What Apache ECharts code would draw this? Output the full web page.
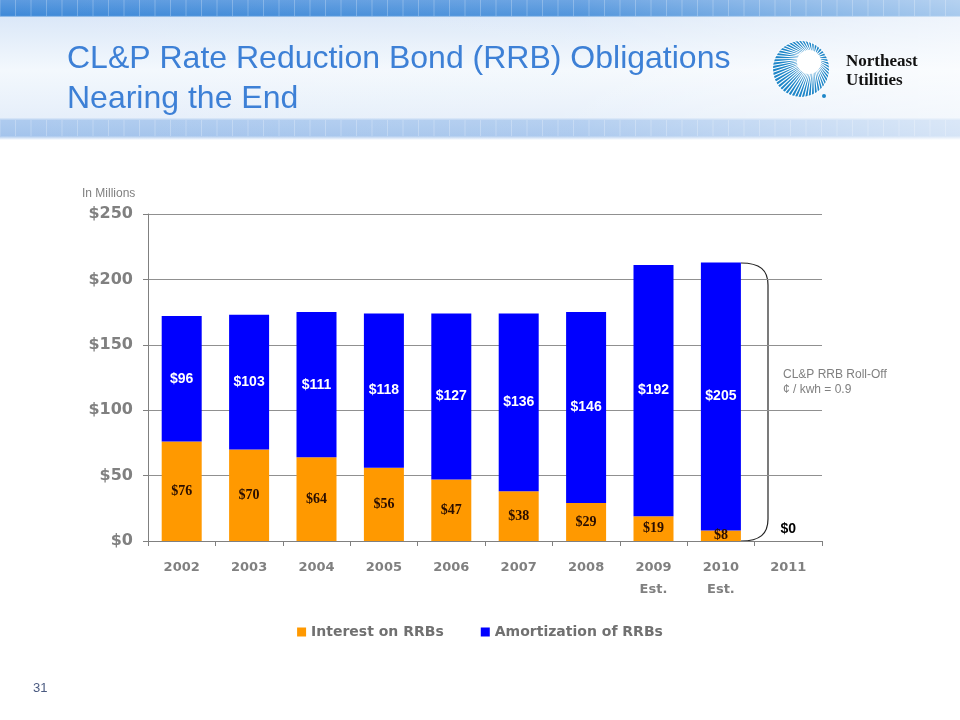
<!DOCTYPE html>
<html><head><meta charset="utf-8">
<script src="https://cdn.jsdelivr.net/npm/echarts@6/dist/echarts.min.js"></script>
<style>html,body{margin:0;padding:0;background:#fff}#c{width:960px;height:720px}</style>
</head><body><div id="c"></div>
<script>
const categories = ['2002','2003','2004','2005','2006','2007','2008','2009\nEst.','2010\nEst.','2011'];
const interest = [76,70,64,56,47,38,29,19,8,0];
const amortization = [96,103,111,118,127,136,146,192,205,0];
const yTicks = [0,50,100,150,200,250];

const chart = echarts.init(document.getElementById('c'));

// decorative header + logo
const graphics = [
  {type:'rect', shape:{x:0,y:0,width:960,height:140}, style:{fill:new echarts.graphic.LinearGradient(0,0,0,1,[
    {offset:0,color:'#5d9be0'},{offset:0.11,color:'#3f8ad8'},{offset:0.125,color:'#dbe8f8'},{offset:0.5,color:'#f3f8fd'},{offset:0.84,color:'#e6effa'},{offset:0.86,color:'#aecbef'},{offset:0.97,color:'#a4c4ec'},{offset:1,color:'#ffffff'}])}, z:-10, silent:true},
  {type:'rect', shape:{x:0,y:0,width:960,height:140}, style:{fill:new echarts.graphic.LinearGradient(0,0,1,0,[
    {offset:0,color:'rgba(255,255,255,0)'},{offset:0.6,color:'rgba(255,255,255,0.1)'},{offset:1,color:'rgba(255,255,255,0.55)'}])}, z:-9, silent:true},
  {type:'text', x:67, y:39, style:{text:'CL&P Rate Reduction Bond (RRB) Obligations\nNearing the End', fill:'#3d80d6', font:'32px "Liberation Sans", Arial, sans-serif', lineHeight:40}},
  {type:'text', x:846, y:52, style:{text:'Northeast\nUtilities', fill:'#111111', font:'bold 17px "Liberation Serif", "Times New Roman", serif', lineHeight:19}},
  {type:'text', x:33, y:682, style:{text:'31', fill:'#4a5a80', font:'13px "Liberation Sans", Arial, sans-serif'}},
  {type:'text', x:82, y:188, style:{text:'In Millions', fill:'#808080', font:'12px "Liberation Sans", Arial, sans-serif'}},
  {type:'text', x:783, y:367, style:{text:'CL&P RRB Roll-Off\n¢ / kwh = 0.9', fill:'#808080', font:'12px "Liberation Sans", Arial, sans-serif', lineHeight:15}},
  {type:'bezierCurve', shape:{x1:741,y1:263,cpx1:760,cpy1:263,cpx2:768,cpy2:270,x2:768,y2:285}, style:{stroke:'#222', lineWidth:1.2, fill:null}, silent:true},
  {type:'line', shape:{x1:768,y1:285,x2:768,y2:519}, style:{stroke:'#222', lineWidth:1.2}, silent:true},
  {type:'bezierCurve', shape:{x1:768,y1:519,cpx1:768,cpy1:534,cpx2:760,cpy2:541,x2:741,y2:541}, style:{stroke:'#222', lineWidth:1.2, fill:null}, silent:true}
];
// header tile pattern
for (let x=0; x<960; x+=15.5){
  graphics.push({type:'line', shape:{x1:x,y1:0,x2:x,y2:16}, style:{stroke:'rgba(255,255,255,0.25)', lineWidth:1}, silent:true, z:-8});
  graphics.push({type:'line', shape:{x1:x,y1:120,x2:x,y2:136}, style:{stroke:'rgba(255,255,255,0.25)', lineWidth:1}, silent:true, z:-8});
}
// logo starburst
const cx=801, cy=69, R=28;
graphics.push({type:'circle', shape:{cx:cx, cy:cy, r:R}, style:{fill:'#1e86c8'}});
for (let i=0;i<52;i++){
  const a = i*Math.PI*2/52;
  graphics.push({type:'line', shape:{x1:cx+8+Math.cos(a)*10, y1:cy-7+Math.sin(a)*10, x2:cx+Math.cos(a)*(R+1), y2:cy+Math.sin(a)*(R+1)}, style:{stroke:'#ffffff', lineWidth:1.1}});
}
graphics.push({type:'circle', shape:{cx:cx+8, cy:cy-7, r:12}, style:{fill:'#ffffff'}});
graphics.push({type:'circle', shape:{cx:cx+23, cy:cy+27, r:2}, style:{fill:'#1e86c8'}});

const innerBlue = {show:true, position:'inside', color:'#ffffff', fontWeight:'bold', fontSize:14, fontFamily:'"Liberation Sans Narrow", "Arial Narrow", "Liberation Sans", sans-serif', formatter:p=>'$'+p.value};
const innerOrange = {show:true, position:'inside', color:'#2a0e00', fontWeight:'bold', fontSize:14, fontFamily:'"Liberation Serif", "Times New Roman", serif', formatter:p=>'$'+p.value};

chart.setOption({
  animation:false,
  backgroundColor:'#ffffff',
  graphic:graphics,
  grid:{left:148, right:138, top:214, bottom:179, containLabel:false},
  legend:{top:620, left:'center', itemWidth:9, itemHeight:9, itemGap:37, icon:'rect',
    textStyle:{color:'#707070', fontWeight:'bold', fontSize:14, fontFamily:'"DejaVu Sans", Verdana, sans-serif'},
    data:['Interest on RRBs','Amortization of RRBs']},
  xAxis:{type:'category', data:categories,
    axisLine:{lineStyle:{color:'#808080'}},
    axisTick:{show:true, length:5, lineStyle:{color:'#808080'}},
    axisLabel:{color:'#808080', fontWeight:'bold', fontSize:13, fontFamily:'"DejaVu Sans", Verdana, sans-serif', margin:16, lineHeight:22}},
  yAxis:{type:'value', min:0, max:250, interval:50,
    axisLine:{show:true, lineStyle:{color:'#808080'}},
    axisTick:{show:true, length:5, lineStyle:{color:'#808080'}},
    splitLine:{lineStyle:{color:'#909090'}},
    axisLabel:{color:'#808080', fontWeight:'bold', fontSize:16, fontFamily:'"DejaVu Sans", Verdana, sans-serif', margin:15,
      formatter:v=> yTicks.includes(v) ? '$'+v : ''}},
  series:[
    {name:'Interest on RRBs', type:'bar', stack:'t', barWidth:40, itemStyle:{color:'#ff9900'},
      label:innerOrange,
      data:interest.map((v,i)=> i===9 ? {value:v, label:{position:'top', distance:5, color:'#000000', fontFamily:'"Liberation Sans Narrow", "Arial Narrow", sans-serif'}} : v)},
    {name:'Amortization of RRBs', type:'bar', stack:'t', barWidth:40, itemStyle:{color:'#0000ff'},
      label:innerBlue,
      data:amortization.map((v,i)=> i===9 ? {value:v, label:{show:false}} : v)}
  ]
});
</script></body></html>
